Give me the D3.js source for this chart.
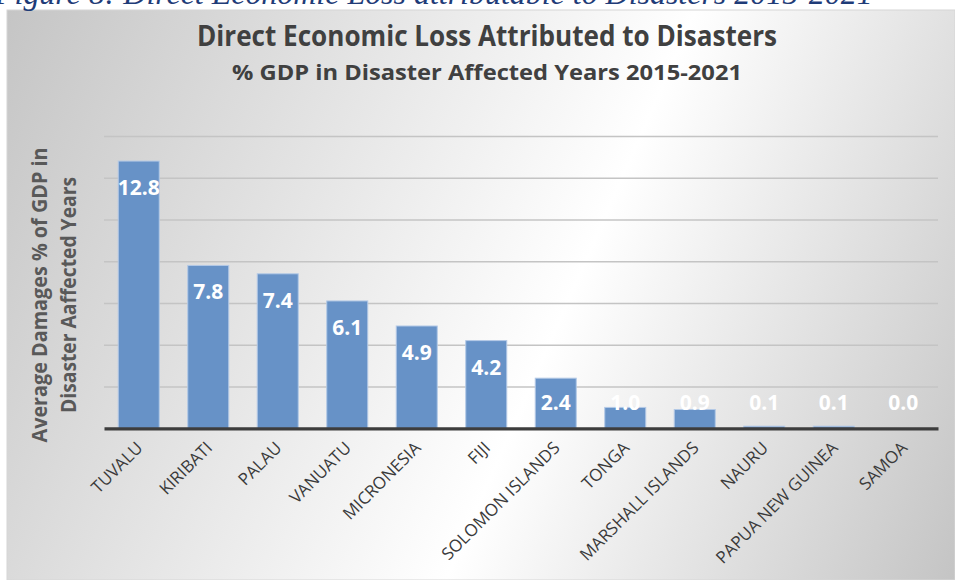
<!DOCTYPE html>
<html>
<head>
<meta charset="utf-8">
<script src="https://cdn.jsdelivr.net/npm/d3@7"></script>
<style>
  body { margin: 0; background: #ffffff; }
  svg { display: block; }
</style>
</head>
<body>
<div id="chart"></div>
<script>
// Data
var countries = ["TUVALU", "KIRIBATI", "PALAU", "VANUATU", "MICRONESIA", "FIJI",
    "SOLOMON ISLANDS", "TONGA", "MARSHALL ISLANDS", "NAURU", "PAPUA NEW GUINEA", "SAMOA"];
var lossPct = [12.8, 7.8, 7.4, 6.1, 4.9, 4.2, 2.4, 1.0, 0.9, 0.1, 0.1, 0.0];
var gridValues = [2, 4, 6, 8, 10, 12, 14];

var caption = "Figure 8: Direct Economic Loss attributable to Disasters 2015-2021";
var title = "Direct Economic Loss Attributed to Disasters";
var subtitle = "% GDP in Disaster Affected Years 2015-2021";
var yTitle = ["Average Damages % of GDP in", "Disaster Aaffected Years"];

var W = 955, H = 580;
var plot = {left: 104, right: 938, top: 136, bottom: 428.3};

var svg = d3.select("#chart").append("svg")
    .attr("width", W)
    .attr("height", H);

//Background gradient of the chart panel
var grad = svg.append("defs").append("linearGradient")
    .attr("id", "bg")
    .attr("gradientUnits", "userSpaceOnUse")
    .attr("x1", 0).attr("y1", 0)
    .attr("x2", 1030).attr("y2", 452);
grad.append("stop").attr("offset", 0).attr("stop-color", "#c4c4c4");
grad.append("stop").attr("offset", 0.57).attr("stop-color", "#ffffff");
grad.append("stop").attr("offset", 1).attr("stop-color", "#c2c2c2");

svg.append("rect")
    .attr("x", 7).attr("y", 10)
    .attr("width", W - 7).attr("height", H - 10)
    .attr("fill", "url(#bg)")
    .attr("stroke", "#d6d6d6")
    .attr("stroke-width", 1);

//Figure caption, cut off by the top of the picture as in the source
var cap = svg.append("text")
    .attr("x", -5)
    .attr("y", 4)
    .attr("font-family", "'Liberation Serif', 'Times New Roman', serif")
    .attr("font-style", "italic")
    .attr("font-size", "30px")
    .attr("fill", "#1f3c78")
    .text(caption);
var capLen = cap.node().getComputedTextLength();
cap.attr("font-size", (30 * 878 / capLen) + "px");

//Titles
svg.append("text")
    .attr("x", 487).attr("y", 46)
    .attr("text-anchor", "middle")
    .attr("font-family", "'Open Sans', sans-serif")
    .attr("font-weight", "bold")
    .attr("font-size", "28px")
    .attr("fill", "#404040")
    .attr("textLength", 580)
    .attr("lengthAdjust", "spacingAndGlyphs")
    .text(title);

svg.append("text")
    .attr("x", 487).attr("y", 80)
    .attr("text-anchor", "middle")
    .attr("font-family", "'Open Sans', sans-serif")
    .attr("font-weight", "bold")
    .attr("font-size", "22px")
    .attr("fill", "#404040")
    .attr("textLength", 510)
    .attr("lengthAdjust", "spacingAndGlyphs")
    .text(subtitle);

//Scales
var x = d3.scaleBand()
    .domain(countries)
    .range([plot.left, plot.right])
    .paddingInner(0.41)
    .paddingOuter(0.205);

var y = d3.scaleLinear()
    .domain([0, 14])
    .range([plot.bottom, plot.top]);

//Gridlines
var grid = svg.append("g")
    .attr("transform", "translate(" + plot.left + ",0)")
    .call(d3.axisLeft(y)
        .tickValues(gridValues)
        .tickSize(-(plot.right - plot.left))
        .tickFormat(""));
grid.select(".domain").remove();
grid.selectAll("line")
    .attr("stroke", "#c4c4c4")
    .attr("stroke-width", 1.6);

//Bars
svg.append("g").selectAll("rect")
    .data(lossPct)
    .enter().append("rect")
    .attr("x", function (d, i) { return x(countries[i]); })
    .attr("y", function (d) { return y(d); })
    .attr("width", x.bandwidth())
    .attr("height", function (d) { return y(0) - y(d); })
    .attr("fill", "#6792c7")
    .attr("stroke", "#b3c9e6")
    .attr("stroke-width", 1);

//Baseline
var xAxis = svg.append("g")
    .attr("transform", "translate(0," + y(0) + ")")
    .call(d3.axisBottom(x).tickSize(0).tickFormat(""));
xAxis.select(".domain")
    .attr("stroke", "#3d3d3d")
    .attr("stroke-width", 3.2);

//Value labels inside the top of each bar
svg.append("g").selectAll("text")
    .data(lossPct)
    .enter().append("text")
    .attr("x", function (d, i) { return x(countries[i]) + x.bandwidth() / 2; })
    .attr("y", function (d) { return Math.min(y(d) + 34, y(0) - 18); })
    .attr("text-anchor", "middle")
    .attr("font-family", "'Open Sans', sans-serif")
    .attr("font-weight", "bold")
    .attr("font-size", "21px")
    .attr("fill", "#ffffff")
    .text(function (d) { return d3.format(".1f")(d); });

//Category labels, rotated
svg.append("g").selectAll("text")
    .data(countries)
    .enter().append("text")
    .attr("transform", function (d) {
        return "translate(" + (x(d) + x.bandwidth() / 2 + 5) + ",449) rotate(-45)";
    })
    .attr("text-anchor", "end")
    .attr("font-family", "'Open Sans', sans-serif")
    .attr("font-size", "17px")
    .attr("fill", "#3a3a3a")
    .text(function (d) { return d; });

//Y axis title, two lines
var yLen = [295, 236];
var yPos = [47, 76];
svg.append("g").selectAll("text")
    .data(yTitle)
    .enter().append("text")
    .attr("transform", function (d, i) {
        return "translate(" + yPos[i] + ",295) rotate(-90)";
    })
    .attr("text-anchor", "middle")
    .attr("font-family", "'Open Sans', sans-serif")
    .attr("font-weight", "bold")
    .attr("font-size", "22px")
    .attr("fill", "#595959")
    .attr("textLength", function (d, i) { return yLen[i]; })
    .attr("lengthAdjust", "spacingAndGlyphs")
    .text(function (d) { return d; });
</script>
</body>
</html>
